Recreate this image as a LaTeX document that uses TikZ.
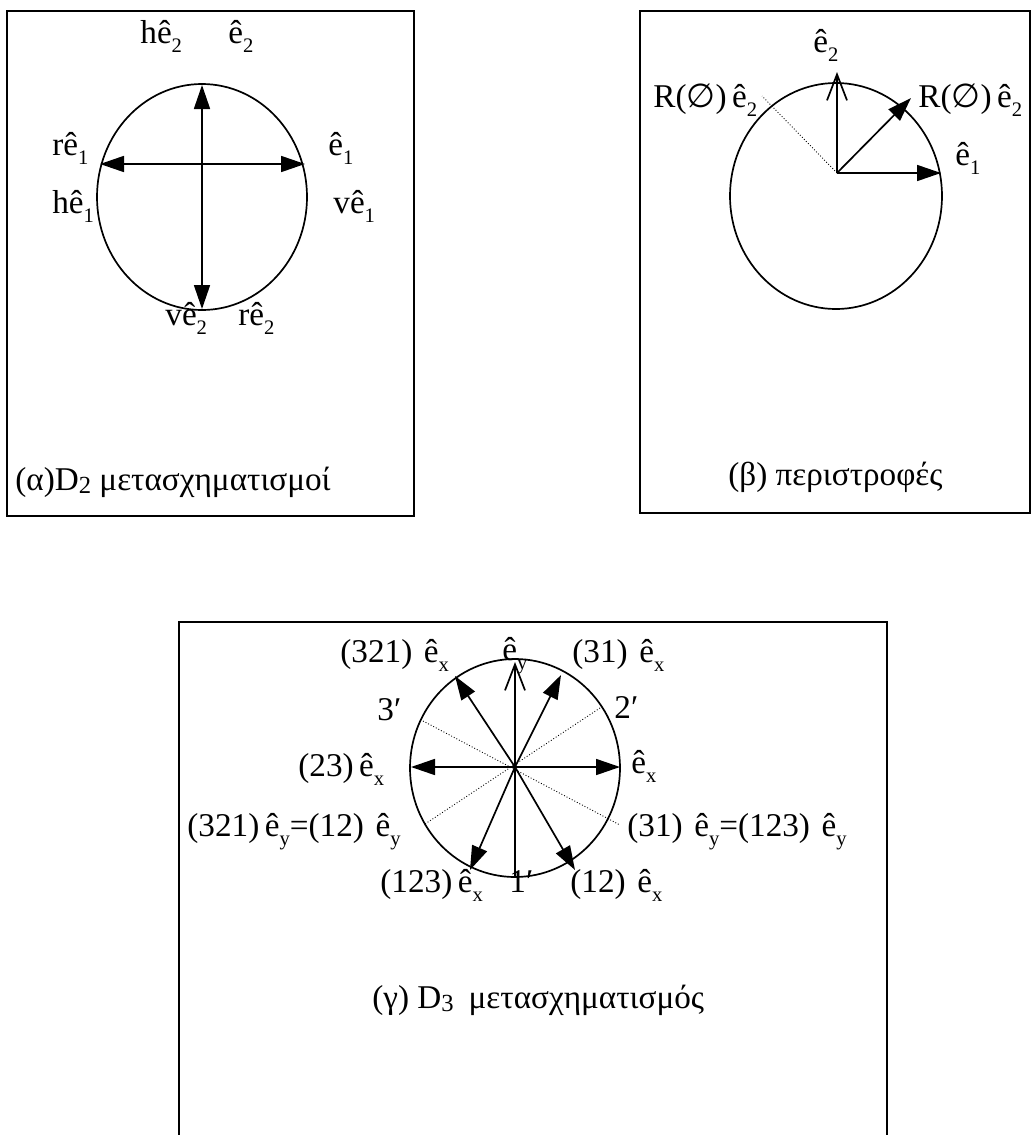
\documentclass[tikz,border=0pt]{standalone}
\usepackage{fontspec}
\setmainfont{Liberation Serif}
\newfontfamily\symf{DejaVu Sans}
\usetikzlibrary{arrows.meta}
\newcommand\lsub[1]{\raisebox{-0.28em}{\fontsize{10.3}{10.3}\selectfont #1}}
\newcommand\csub[1]{\raisebox{-0.12em}{\fontsize{12.3}{12.3}\selectfont #1}}
\begin{document}
\begin{tikzpicture}[x=0.5pt,y=-0.5pt]
\tikzset{
  frame/.style={line width=1.15pt},
  ring/.style={line width=0.85pt},
  vec/.style={line width=0.85pt,-{Triangle[length=12pt,width=8pt]}},
  dvec/.style={line width=0.85pt,{Triangle[length=12pt,width=8pt]}-{Triangle[length=12pt,width=8pt]}},
  bvec/.style={line width=0.85pt,-{Straight Barb[length=13pt,width=10pt]}},
  guide/.style={line width=0.45pt,densely dotted},
  lbl/.style={anchor=base west,inner sep=0pt,font=\fontsize{16.6}{19}\selectfont}
}
\useasboundingbox (0,0) rectangle (1036,1135);
\fill[white] (0,0) rectangle (1036,1135);

% ---------- (alpha) ----------
\draw[frame] (7,11) rectangle (414,516);
\draw[ring] (202,197) ellipse [x radius=52.5pt, y radius=56.5pt];
\coordinate (aL) at (100,164);
\coordinate (aR) at (305,164);
\coordinate (aT) at (202,85);
\coordinate (aB) at (202,309);
\draw[dvec] (aL) -- (aR);
\draw[dvec] (aT) -- (aB);
\node[lbl] (ahe2) at (140,43) {hê\lsub{2}};
\node[lbl] (ae2) at (228,43) {ê\lsub{2}};
\node[lbl] (are1) at (52,155) {rê\lsub{1}};
\node[lbl] (ae1) at (328,155) {ê\lsub{1}};
\node[lbl] (ahe1) at (52,213) {hê\lsub{1}};
\node[lbl] (ave1) at (333,213) {vê\lsub{1}};
\node[lbl] (ave2) at (165,325) {vê\lsub{2}};
\node[lbl] (are2) at (238,325) {rê\lsub{2}};
\node[lbl] (acap) at (15,490) {(α)D\csub{2} μετασχηματισμοί};

% ---------- (beta) ----------
\draw[frame] (640,11) rectangle (1030,513);
\draw[ring] (836,196) ellipse [x radius=53pt, y radius=56.5pt];
\coordinate (bO) at (837,173);
\coordinate (bE) at (941,173);
\coordinate (bN) at (837,72);
\coordinate (bR) at (911,98);
\coordinate (bD) at (762,96);
\draw[guide] (bO) -- (bD);
\draw[vec] (bO) -- (bE);
\draw[bvec] (bO) -- (bN);
\draw[vec] (bO) -- (bR);
\node[lbl] (be2) at (813,52) {ê\lsub{2}};
\node[lbl] (bRl) at (653,107) {R({\symf ∅})\,ê\lsub{2}};
\node[lbl] (bRr) at (918,107) {R({\symf ∅})\,ê\lsub{2}};
\node[lbl] (be1) at (955,165) {ê\lsub{1}};
\node[lbl] (bcap) at (728,485) {(β) περιστροφές};

% ---------- (gamma) ----------
\draw[frame] (179,1140) -- (179,622) -- (887,622) -- (887,1140);
\draw[ring] (515,768) ellipse [x radius=52.5pt, y radius=54.5pt];
\coordinate (gO) at (515,767);
\coordinate (gE) at (620,767);
\coordinate (gW) at (411,767);
\coordinate (gN) at (515,662);
\coordinate (gS) at (515,877);
\coordinate (gNW) at (455,676);
\coordinate (gNE) at (561,675);
\coordinate (gSW) at (470,870);
\coordinate (gSE) at (575,870);
\coordinate (gd1a) at (423,721);
\coordinate (gd1b) at (620,825);
\coordinate (gd2a) at (600,708);
\coordinate (gd2b) at (425,824);
\draw[guide] (gd1a) -- (gd1b);
\draw[guide] (gd2a) -- (gd2b);
\draw[vec] (gO) -- (gE);
\draw[vec] (gO) -- (gW);
\draw[bvec] (gS) -- (gN);
\draw[vec] (gO) -- (gNW);
\draw[vec] (gO) -- (gNE);
\draw[vec] (gO) -- (gSW);
\draw[vec] (gO) -- (gSE);
\node[lbl] (g321x) at (340,662) {(321)\hspace{0.35em}ê\lsub{x}};
\node[lbl] (gey) at (502,660) {ê\lsub{y}};
\node[lbl] (g31x) at (572,662) {(31)\hspace{0.35em}ê\lsub{x}};
\node[lbl] (g3p) at (377,720) {3′};
\node[lbl] (g2p) at (614,718) {2′};
\node[lbl] (g23x) at (298,776) {(23)\,ê\lsub{x}};
\node[lbl] (gex) at (631,773) {ê\lsub{x}};
\node[lbl] (g321y) at (187,836) {(321)\,ê\lsub{y}=(12)\hspace{0.35em}ê\lsub{y}};
\node[lbl] (g31y) at (627,836) {(31)\hspace{0.35em}ê\lsub{y}=(123)\hspace{0.35em}ê\lsub{y}};
\node[lbl] (g123x) at (380,892) {(123)\,ê\lsub{x}};
\node[lbl] (g1p) at (509,892) {1′};
\node[lbl] (g12x) at (570,892) {(12)\hspace{0.35em}ê\lsub{x}};
\node[lbl] (gcap) at (372,1008) {(γ) D\csub{3}\hspace{0.45em}μετασχηματισμός};
\end{tikzpicture}
\end{document}
